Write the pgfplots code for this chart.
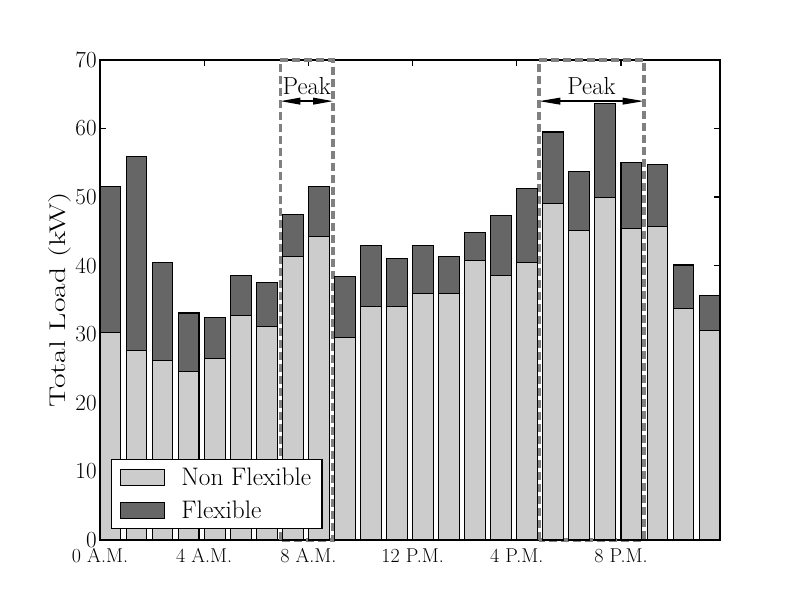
\documentclass[border=0pt]{standalone}
\usepackage{pgfplots}
\pgfplotsset{compat=1.18}
\usepackage{pgfplotstable}
\usetikzlibrary{arrows.meta}
\definecolor{nflex}{HTML}{CCCCCC}
\definecolor{flex}{HTML}{666666}
\definecolor{peakgray}{HTML}{808080}
\pgfplotstableread{
x nf f
0.4 30.2 21.4
1.4 27.6 28.3
2.4 26.2 14.3
3.4 24.6 8.5
4.4 26.5 6.0
5.4 32.8 5.8
6.4 31.2 6.4
7.4 41.3 6.2
8.4 44.3 7.2
9.4 29.5 8.9
10.4 34.0 9.0
11.4 34.0 7.1
12.4 35.9 7.0
13.4 36.0 5.3
14.4 40.7 4.1
15.4 38.6 8.7
16.4 40.5 10.7
17.4 49.1 10.4
18.4 45.1 8.7
19.4 49.9 13.7
20.4 45.4 9.7
21.4 45.7 9.1
22.4 33.7 6.4
23.4 30.6 5.0
}\loaddata
\begin{document}
\begin{tikzpicture}[x=1pt,y=1pt]
\path[use as bounding box] (-75pt,-45pt) rectangle (525pt,405pt);
\begin{axis}[
  at={(0pt,0pt)}, anchor=south west,
  scale only axis, width=465pt, height=360pt,
  xmin=0, xmax=23.8, ymin=0, ymax=70,
  ybar stacked, bar width=0.8,
  xtick={0,4,8,12,16,20},
  xticklabels={0 A.M.,4 A.M.,8 A.M.,12 P.M.,4 P.M.,8 P.M.},
  ytick={0,10,...,70},
  tick align=inside,
  major tick length=4.5pt,
  every tick/.style={black, line width=1pt},
  axis line style={line width=1pt},
  yticklabel style={font=\fontsize{17.5}{20}\selectfont, xshift=1pt},
  xticklabel style={font=\fontsize{15}{17}\selectfont, yshift=-3pt},
  ylabel={\scalebox{1.4}[1]{Total Load (kW)}},
  ylabel style={font=\fontsize{17}{20}\selectfont, yshift=-4pt},
  legend style={at={(0.0177,0.023)}, anchor=south west, draw=black, line width=0.9pt,
    font=\fontsize{19}{22}\selectfont, row sep=6pt, inner xsep=6pt, inner ysep=4pt,
    cells={anchor=west}},
  legend image code/.code={\draw[#1, line width=0.8pt] (0pt,-6pt) rectangle (33pt,6pt); \path[draw=none,fill=none] (0pt,0pt) -- (44pt,0pt);},
  clip=false,
]
\addplot[draw=black, line width=0.8pt, fill=nflex] table[x=x,y=nf]{\loaddata};
\addlegendentry{Non Flexible}
\addplot[draw=black, line width=0.8pt, fill=flex] table[x=x,y=f]{\loaddata};
\addlegendentry{Flexible}
\draw[peakgray, line width=2.5pt, dash pattern=on 6pt off 3pt] (axis cs:6.92,0) rectangle (axis cs:8.95,70);
\draw[peakgray, line width=2.5pt, dash pattern=on 6pt off 3pt] (axis cs:16.85,0) rectangle (axis cs:20.88,70);
\draw[black, line width=1.1pt, {Triangle[length=15pt,width=5pt]}-{Triangle[length=15pt,width=5pt]}] (axis cs:6.92,64.0) -- (axis cs:8.95,64.0);
\draw[black, line width=1.1pt, {Triangle[length=16pt,width=5pt]}-{Triangle[length=16pt,width=5pt]}] (axis cs:16.85,64.0) -- (axis cs:20.88,64.0);
\node[anchor=base, font=\fontsize{18.5}{21}\selectfont, inner sep=0pt] at (axis cs:7.935,64.9) {Peak};
\node[anchor=base, font=\fontsize{18.5}{21}\selectfont, inner sep=0pt] at (axis cs:18.865,64.9) {Peak};
\end{axis}
\end{tikzpicture}
\end{document}
